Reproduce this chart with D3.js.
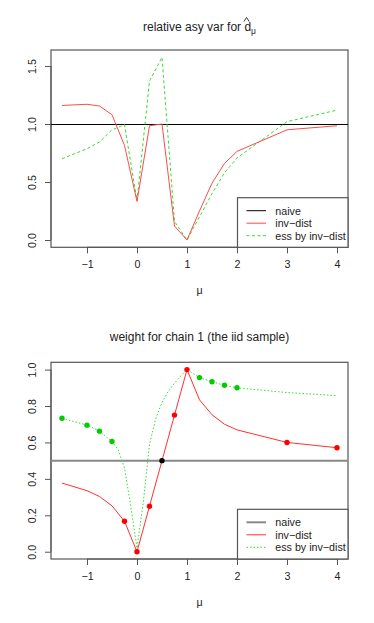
<!DOCTYPE html>
<html>
<head>
<meta charset="utf-8">
<script src="https://cdn.jsdelivr.net/npm/d3@7"></script>
<style>
  body { margin: 0; background: #fff; }
  text { font-family: "Liberation Sans", Arial, sans-serif; fill: #222; }
</style>
</head>
<body>
<script>
// top panel: relative asymptotic variance
const mu = [-1.5, -1, -0.75, -0.5, -0.25, 0, 0.25, 0.5, 0.75, 1, 1.25, 1.5, 1.75, 2, 3, 4];
const relInv = [1.16, 1.17, 1.155, 1.08, 0.815, 0.333, 0.985, 1.0, 0.12, 0.0, 0.25, 0.49, 0.66, 0.764, 0.95, 0.985];
const relEss = [0.70, 0.787, 0.845, 0.95, 0.994, 0.34, 1.37, 1.575, 0.16, 0.0, 0.2, 0.40, 0.58, 0.707, 1.02, 1.12];

// bottom panel: weight for chain 1
const wInv = [0.377, 0.335, 0.303, 0.252, 0.167, 0, 0.25, 0.5, 0.75, 1, 0.834, 0.752, 0.70, 0.669, 0.60, 0.571];
const essMu = [-1.5, -1, -0.75, -0.5, -0.375, -0.25, -0.125, 0, 0.125, 0.25, 0.375, 0.5, 0.625, 0.75, 0.875, 1, 1.25, 1.5, 1.75, 2, 3, 4];
const wEss = [0.733, 0.695, 0.662, 0.605, 0.56, 0.46, 0.25, 0.02, 0.27, 0.59, 0.73, 0.82, 0.88, 0.925, 0.965, 1.0, 0.956, 0.933, 0.914, 0.9, 0.874, 0.857];
const invDotMu = [-0.25, 0, 0.25, 0.75, 1, 3, 4];
const invDotW = [0.167, 0, 0.25, 0.75, 1, 0.6, 0.571];
const essDotMu = [-1.5, -1, -0.75, -0.5, 1.25, 1.5, 1.75, 2];
const essDotW = [0.733, 0.695, 0.662, 0.605, 0.956, 0.933, 0.914, 0.9];
const naiveDotMu = [0.5];
const naiveDotW = [0.5];

const xTicks = [-1, 0, 1, 2, 3, 4];
const yTicksTop = [0, 0.5, 1, 1.5];
const yTicksBot = [0, 0.2, 0.4, 0.6, 0.8, 1];
const legendLabels = ["naive", "inv\u2212dist", "ess by inv\u2212dist"];

const W = 374, H = 623;
const svg = d3.select("body").append("svg").attr("width", W).attr("height", H);

const x = d3.scaleLinear().domain([-1.72, 4.22]).range([51, 348]);
const fmt1 = d => d.toFixed(1);
const crisp = v => Math.round(v) + 0.5;

function panel(top, bottom, ydom, yticks) {
  const y = d3.scaleLinear().domain(ydom).range([bottom, top]);
  const g = svg.append("g");
  // box
  g.append("rect").attr("x", 51).attr("y", top).attr("width", 297).attr("height", bottom - top)
    .attr("fill", "none").attr("stroke", "#555").attr("stroke-width", 1.2);
  // x axis
  const xa = g.append("g").attr("transform", `translate(0,${bottom})`)
    .call(d3.axisBottom(x).tickValues(xTicks).tickSize(6).tickPadding(7)
      .tickFormat(d => d < 0 ? "\u2212" + Math.abs(d) : d));
  xa.select(".domain").attr("d", `M${x(-1)},0H${x(4)}`).attr("stroke", "#555");
  xa.selectAll(".tick line").attr("stroke", "#555");
  xa.selectAll(".tick text").attr("font-size", "10.7px").attr("fill", "#222")
    .attr("font-family", "Liberation Sans, Arial, sans-serif");
  // y axis
  const ya = g.append("g").attr("transform", "translate(51,0)")
    .call(d3.axisLeft(y).tickValues(yticks).tickSize(6).tickFormat(fmt1));
  ya.select(".domain").attr("d", `M0,${y(yticks[0])}V${y(yticks[yticks.length - 1])}`).attr("stroke", "#555");
  ya.selectAll(".tick line").attr("stroke", "#555");
  ya.selectAll(".tick text").attr("font-size", "10.7px").attr("fill", "#222")
    .attr("font-family", "Liberation Sans, Arial, sans-serif")
    .attr("x", null).attr("dy", null)
    .attr("transform", "translate(-15.5,0) rotate(-90)")
    .attr("text-anchor", "middle");
  // x label
  g.append("text").attr("x", 199.5).attr("y", bottom + 47).attr("text-anchor", "middle")
    .attr("font-size", "10.7px").text("\u03bc");
  return { g, y };
}

function drawLine(g, xs, ys, y, color, dash, width) {
  const line = d3.line().x(d => x(d[0])).y(d => y(d[1]));
  g.append("path").datum(xs.map((v, i) => [v, ys[i]]))
    .attr("d", line).attr("fill", "none").attr("stroke", color)
    .attr("stroke-width", width || 1).attr("stroke-dasharray", dash || null);
}

function drawDots(g, xs, ys, y, color) {
  g.selectAll(null).data(xs.map((v, i) => [v, ys[i]])).enter().append("circle")
    .attr("cx", d => x(d[0])).attr("cy", d => y(d[1])).attr("r", 2.7).attr("fill", color);
}

function legend(g, top, bottom, styles) {
  g.append("rect").attr("x", 237.5).attr("y", top).attr("width", 110.5).attr("height", bottom - top)
    .attr("fill", "#fff").attr("stroke", "#555").attr("stroke-width", 1.2);
  legendLabels.forEach((lab, i) => {
    const yy = top + 13 + i * 12.5;
    const s = styles[i];
    g.append("line").attr("x1", 246.5).attr("x2", 266).attr("y1", yy).attr("y2", yy)
      .attr("stroke", s.color).attr("stroke-width", s.width || 1).attr("stroke-dasharray", s.dash || null);
    g.append("text").attr("x", 275.3).attr("y", yy + 3.8).attr("font-size", "10.7px").text(lab);
  });
}

// ---- top panel ----
const p1 = panel(50, 247.3, [-0.063, 1.638], yTicksTop);
const t1 = svg.append("text").attr("x", 199.5).attr("y", 31).attr("text-anchor", "middle").attr("font-size", "12px");
t1.append("tspan").text("relative asy var for d");
t1.append("tspan").attr("font-size", "8.5px").attr("dy", 3).text("\u03bc");
const tb = t1.node().getBBox();
// hat over the d, drawn as a small caret
const hx = tb.x + tb.width - 9.5;
svg.append("path").attr("d", `M${hx - 2.6},${21.5}L${hx},${17.5}L${hx + 2.6},${21.5}`)
  .attr("fill", "none").attr("stroke", "#222").attr("stroke-width", 0.9);

p1.g.append("line").attr("x1", 51).attr("x2", 348).attr("y1", crisp(p1.y(1))).attr("y2", crisp(p1.y(1)))
  .attr("stroke", "#000").attr("stroke-width", 1);
drawLine(p1.g, mu, relEss, p1.y, "#33dd33", "3,2.5");
drawLine(p1.g, mu, relInv, p1.y, "#ff4a4a");
legend(p1.g, 197.7, 247.3, [
  { color: "#000" }, { color: "#ff4a4a" }, { color: "#33dd33", dash: "3,2.5" }
]);

// ---- bottom panel ----
const p2 = panel(362.3, 559, [-0.04, 1.04], yTicksBot);
svg.append("text").attr("x", 199.5).attr("y", 341).attr("text-anchor", "middle").attr("font-size", "12px")
  .text("weight for chain 1 (the iid sample)");

p2.g.append("line").attr("x1", 51).attr("x2", 348).attr("y1", p2.y(0.5)).attr("y2", p2.y(0.5))
  .attr("stroke", "#888").attr("stroke-width", 2);
drawLine(p2.g, essMu, wEss, p2.y, "#33dd33", "1.5,2");
drawLine(p2.g, mu, wInv, p2.y, "#ff3030");
drawDots(p2.g, essDotMu, essDotW, p2.y, "#00cc00");
drawDots(p2.g, invDotMu, invDotW, p2.y, "#ff0000");
drawDots(p2.g, naiveDotMu, naiveDotW, p2.y, "#000");
legend(p2.g, 509.3, 559, [
  { color: "#888", width: 2 }, { color: "#ff3030" }, { color: "#33dd33", dash: "1.5,2" }
]);
</script>
</body>
</html>
